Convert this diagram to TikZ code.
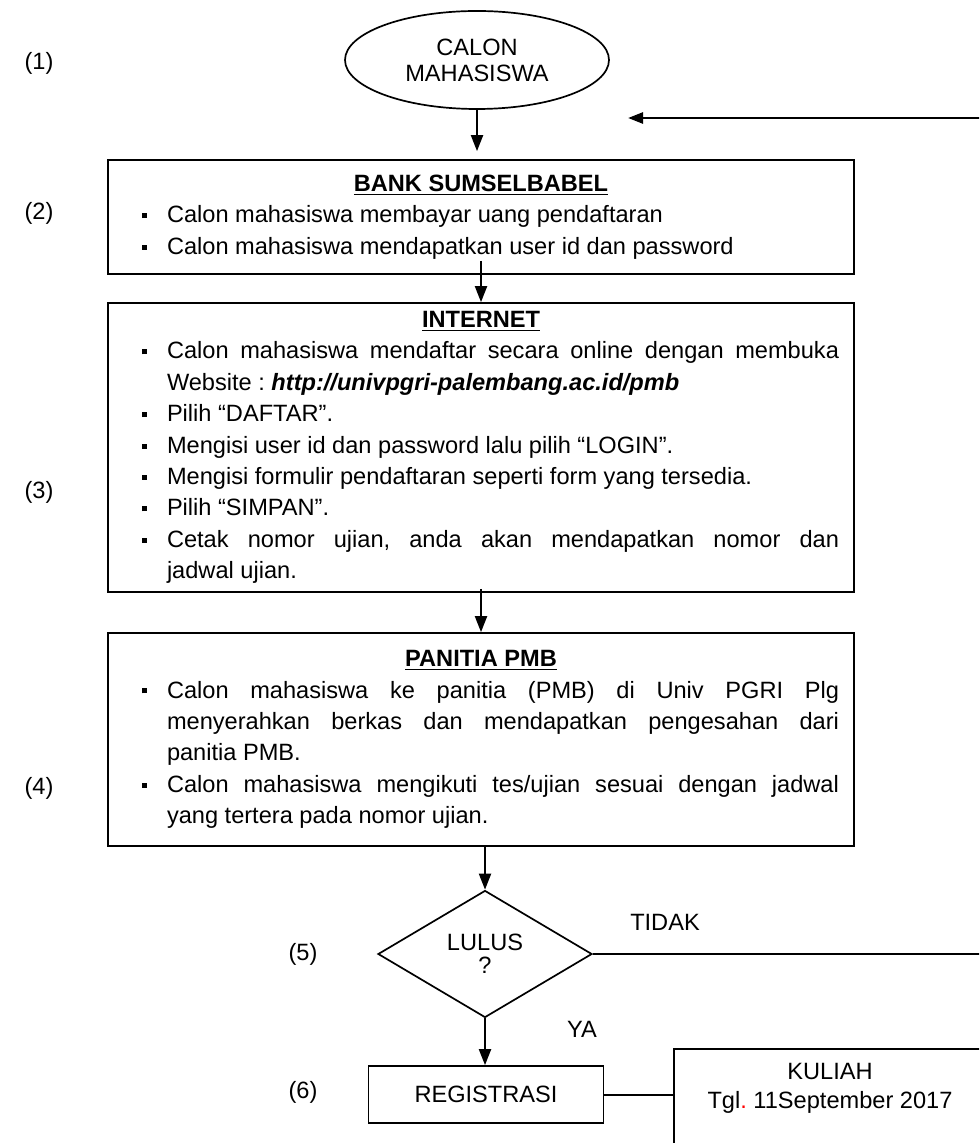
\documentclass[tikz,border=0pt]{standalone}
\usepackage{fontspec}
\setmainfont{Liberation Sans}
\usetikzlibrary{arrows.meta}
\usetikzlibrary{shapes.geometric}

\newcommand{\huruf}{\fontsize{11.8}{15.7}\selectfont\frenchspacing\hyphenpenalty=10000\relax\exhyphenpenalty=10000\relax}
\newcommand{\butir}{\par\noindent\hangindent=22pt\hangafter=1\makebox[22pt][l]{\hspace{9.5pt}\raisebox{2.3pt}{\rule{2.5pt}{2.5pt}}}\ignorespaces}
\newcommand{\judul}[1]{{\centering\underline{\textbf{#1}}\par}}

\begin{document}
\begin{tikzpicture}[x=0.5pt,y=-0.5pt,font=\huruf,
    kotak/.style={draw,line width=0.85pt,text width=358pt,inner xsep=7.5pt,inner ysep=0pt,align=justify},
    kotakkecil/.style={draw,line width=0.85pt,align=center},
    panah/.style={-{Triangle[length=8pt,width=6pt]},line width=1pt},
    balik/.style={-{Triangle[length=7.5pt,width=5.5pt]},line width=1.3pt}]
    \useasboundingbox (0,0) rectangle (979,1143);
    \clip (0,0) rectangle (979,1143);
    %langkah
    \node (no1) at (39,63) {(1)};
    \node (no2) at (39,213) {(2)};
    \node (no3) at (39,492) {(3)};
    \node (no4) at (39,788) {(4)};
    \node (no5) at (303,954) {(5)};
    \node (no6) at (303,1092) {(6)};
    \node[ellipse,draw,line width=0.85pt,minimum width=132pt,minimum height=49pt,inner sep=0pt,align=center,font=\fontsize{11.8}{13}\selectfont] (calon) at (477,60) {CALON\\MAHASISWA};
    \node[kotak,minimum height=57pt] (bank) at (481,217) {\judul{BANK SUMSELBABEL}
        \butir Calon mahasiswa membayar uang pendaftaran
        \butir Calon mahasiswa mendapatkan user id dan password\par};
    \node[kotak,minimum height=144.5pt] (internet) at (481,447.5) {\judul{INTERNET}
        \butir Calon mahasiswa mendaftar secara online dengan membuka\linebreak
        Website : \textbf{\textit{http://univpgri-palembang.ac.id/pmb}}
        \butir Pilih “DAFTAR”.
        \butir Mengisi user id dan password lalu pilih “LOGIN”.
        \butir Mengisi formulir pendaftaran seperti form yang tersedia.
        \butir Pilih “SIMPAN”.
        \butir Cetak nomor ujian, anda akan mendapatkan nomor dan\linebreak jadwal ujian.\par};
    \node[kotak,minimum height=106.5pt] (panitia) at (481,739.5) {\judul{PANITIA PMB}
        \butir Calon mahasiswa ke panitia (PMB) di Univ PGRI Plg\linebreak
        menyerahkan berkas dan mendapatkan pengesahan dari\linebreak panitia PMB.
        \butir Calon mahasiswa mengikuti tes/ujian sesuai dengan jadwal\linebreak yang tertera pada nomor ujian.\par};
    \node[diamond,draw,line width=0.85pt,aspect=1.68,minimum width=107pt,minimum height=63.5pt,inner sep=0pt,align=center,font=\fontsize{11.8}{11.5}\selectfont] (lulus) at (485,954) {LULUS\\?};
    \node[kotakkecil,anchor=north,minimum width=156pt,inner ysep=7pt,font=\fontsize{11.8}{14.5}\selectfont\frenchspacing] (kuliah) at (830,1048) {KULIAH\\Tgl\textcolor{red}{.} 11September 2017\\\rule{0pt}{40pt}};
    \node[kotakkecil,minimum width=117.5pt,minimum height=28.5pt] (reg) at (486,1094.5) {REGISTRASI};
    \node (tidak) at (665,922) {TIDAK};
    \node (ya) at (582,1029) {YA};
    \coordinate (kanan1) at (995,954);
    \coordinate (kanan2) at (995,118);
    \coordinate (ujung) at (628,118);
    \draw[panah,shorten >=4pt] (calon.south) -- (calon.south |- bank.north);
    \draw[panah] ([yshift=7pt]bank.south) -- (internet.north);
    \draw[panah] ([yshift=2pt]internet.south) -- (panitia.north);
    \draw[panah] (panitia.south -| lulus.north) -- (lulus.north);
    \draw[panah] (lulus.south) -- (lulus.south |- reg.north);
    \draw[line width=1pt] (reg.east) -- (reg.east -| kuliah.west);
    \draw[balik] (lulus.east) -- (kanan1) -- (kanan2) -- (ujung);
\end{tikzpicture}
\end{document}
